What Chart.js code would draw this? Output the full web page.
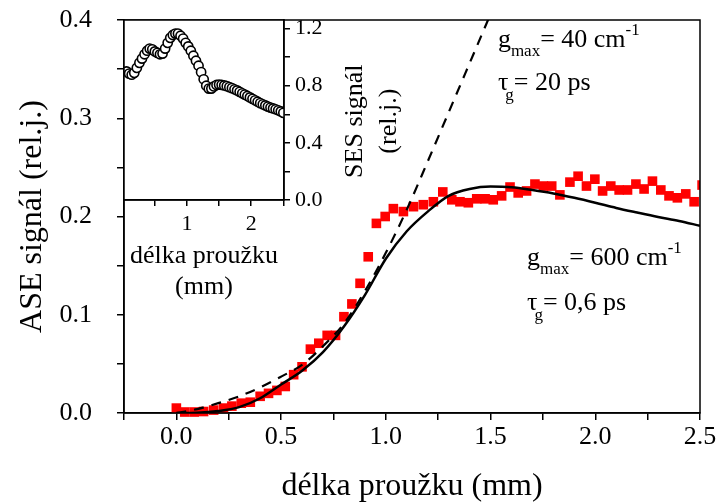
<!DOCTYPE html>
<html>
<head>
<meta charset="utf-8">
<script src="https://cdn.jsdelivr.net/npm/chart.js@4/dist/chart.umd.min.js"></script>
<style>
  html, body { margin: 0; padding: 0; background: #fff; }
  #wrap { position: relative; width: 717px; height: 504px; }
  #wrap canvas { position: absolute; left: 0; top: 0; }
</style>
</head>
<body>
<div id="wrap">
  <canvas id="main" width="717" height="504"></canvas>
  <canvas id="inset" width="717" height="504"></canvas>
</div>
<script>
// ASE signal vs. excitation stripe length (measured)
const stripLength = [0.00, 0.04, 0.085, 0.13, 0.178, 0.225, 0.265, 0.31, 0.353, 0.40,
  0.44, 0.48, 0.52, 0.56, 0.60, 0.64, 0.68, 0.72, 0.76, 0.80,
  0.838, 0.877, 0.916, 0.955, 0.997, 1.036, 1.084, 1.132, 1.179, 1.227,
  1.272, 1.315, 1.354, 1.394, 1.434, 1.474, 1.513, 1.553, 1.593, 1.632,
  1.672, 1.712, 1.752, 1.792, 1.831, 1.879, 1.918, 1.958, 1.998, 2.035,
  2.074, 2.114, 2.154, 2.194, 2.233, 2.273, 2.313, 2.352, 2.392, 2.432,
  2.472, 2.51];
const aseSignal = [0.005, 0.001, 0.001, 0.0015, 0.003, 0.005, 0.007, 0.010, 0.011, 0.017,
  0.020, 0.023, 0.027, 0.039, 0.047, 0.065, 0.071, 0.079, 0.079, 0.098,
  0.111, 0.132, 0.159, 0.193, 0.200, 0.208, 0.205, 0.210, 0.212, 0.215,
  0.225, 0.217, 0.215, 0.214, 0.218, 0.218, 0.217, 0.221, 0.230, 0.224,
  0.226, 0.233, 0.231, 0.231, 0.222, 0.235, 0.241, 0.231, 0.238, 0.226,
  0.231, 0.227, 0.227, 0.233, 0.228, 0.236, 0.227, 0.221, 0.219, 0.223,
  0.215, 0.232];

// model curves
const modelLength = [0, 0.1, 0.2, 0.3, 0.4, 0.5, 0.6, 0.7, 0.8, 0.9, 1.0, 1.1, 1.2,
  1.3, 1.4, 1.5, 1.6, 1.7, 1.8, 1.9, 2.0, 2.1, 2.2, 2.3, 2.4, 2.5];
// g_max = 600 cm^-1, tau_g = 0.6 ps
const modelFast = [0, 0.0003, 0.002, 0.006, 0.015, 0.029, 0.043, 0.062, 0.088, 0.120,
  0.157, 0.185, 0.205, 0.221, 0.228, 0.2305, 0.2298, 0.227, 0.2235, 0.219,
  0.214, 0.2087, 0.204, 0.1995, 0.1955, 0.1905];
// g_max = 40 cm^-1, tau_g = 20 ps
const slowLength = [0, 0.1, 0.2, 0.3, 0.4, 0.5, 0.6, 0.7, 0.8, 0.9, 1.0, 1.1, 1.2,
  1.3, 1.4, 1.5, 1.6];
const modelSlow = [0, 0.004, 0.010, 0.017, 0.026, 0.037, 0.049, 0.068, 0.091, 0.124,
  0.163, 0.207, 0.256, 0.306, 0.356, 0.406, 0.456];

// SES signal (inset)
const sesLength = [0.06, 0.10, 0.14, 0.18, 0.22, 0.26, 0.30, 0.34, 0.38, 0.42,
  0.46, 0.50, 0.54, 0.58, 0.62, 0.66, 0.70, 0.74, 0.78, 0.82,
  0.86, 0.90, 0.94, 0.98, 1.02, 1.06, 1.10, 1.14, 1.18, 1.22,
  1.26, 1.30, 1.34, 1.38, 1.42, 1.46, 1.50, 1.54, 1.58, 1.62,
  1.66, 1.70, 1.74, 1.78, 1.82, 1.86, 1.90, 1.94, 1.98, 2.02,
  2.06, 2.10, 2.14, 2.18, 2.22, 2.26, 2.30, 2.34, 2.38, 2.42,
  2.46, 2.50];
const sesSignal = [0.900, 0.885, 0.877, 0.890, 0.925, 0.960, 0.990, 1.020, 1.045, 1.060,
  1.055, 1.040, 1.030, 1.020, 1.025, 1.060, 1.100, 1.135, 1.155, 1.165,
  1.165, 1.150, 1.130, 1.100, 1.075, 1.045, 1.010, 0.975, 0.940, 0.895,
  0.845, 0.800, 0.780, 0.780, 0.795, 0.805, 0.808, 0.806, 0.802, 0.797,
  0.790, 0.783, 0.775, 0.767, 0.757, 0.747, 0.738, 0.728, 0.718, 0.708,
  0.698, 0.688, 0.678, 0.670, 0.662, 0.654, 0.647, 0.641, 0.635, 0.628,
  0.620, 0.610];

// tick labels
const mainXLabels = ['0.0', '0.5', '1.0', '1.5', '2.0', '2.5'];
const mainYLabels = ['0.0', '0.1', '0.2', '0.3', '0.4'];
const insetXLabels = ['1', '2'];
const insetYLabels = ['0.0', '0.4', '0.8', '1.2'];

const SERIF = "'Liberation Serif', 'Times New Roman', serif";

function labelFrom(list, v) {
  const hit = list.find(s => Math.abs(parseFloat(s) - v) < 1e-6);
  return hit === undefined ? '' : hit;
}
const pts = (xs, ys) => xs.map((x, i) => ({ x, y: ys[i] }));

// frame around the plot area
const frame = {
  id: 'frame',
  beforeDraw(chart, args, opts) {
    if (!opts.fill) return;
    const a = chart.chartArea, ctx = chart.ctx;
    ctx.save();
    ctx.fillStyle = opts.fill;
    ctx.fillRect(a.left, a.top, a.right - a.left, a.bottom - a.top);
    ctx.restore();
  },
  afterDraw(chart) {
    const a = chart.chartArea, ctx = chart.ctx;
    ctx.save();
    ctx.strokeStyle = '#000';
    ctx.lineWidth = 1.5;
    ctx.strokeRect(a.left, a.top, a.right - a.left, a.bottom - a.top);
    ctx.restore();
  }
};

function drawRich(ctx, x, y, parts) {
  let cx = x;
  for (const p of parts) {
    ctx.font = p.size + 'px ' + SERIF;
    ctx.fillText(p.t, cx, y + (p.dy || 0));
    cx += ctx.measureText(p.t).width + (p.gap || 0);
  }
}

// parameter labels next to the model curves, and the inset's rotated y title
const notes = {
  id: 'notes',
  afterDraw(chart) {
    const { ctx, scales: { x, y } } = chart;
    ctx.save();
    ctx.fillStyle = '#000';
    ctx.textBaseline = 'alphabetic';
    ctx.textAlign = 'left';
    const x1 = x.getPixelForValue(1.535), x2 = x.getPixelForValue(1.674);
    drawRich(ctx, x1, y.getPixelForValue(0.373), [
      { t: 'g', size: 26 }, { t: 'max', size: 17, dy: 9 },
      { t: '= 40 cm', size: 26 }, { t: '-1', size: 17, dy: -12 }]);
    drawRich(ctx, x1, y.getPixelForValue(0.329), [
      { t: 'τ', size: 26, gap: -3 }, { t: 'g', size: 17, dy: 10 },
      { t: '= 20 ps', size: 26 }]);
    drawRich(ctx, x2, y.getPixelForValue(0.151), [
      { t: 'g', size: 26 }, { t: 'max', size: 17, dy: 9 },
      { t: '= 600 cm', size: 26 }, { t: '-1', size: 17, dy: -12 }]);
    drawRich(ctx, x2, y.getPixelForValue(0.105), [
      { t: 'τ', size: 26, gap: -3 }, { t: 'g', size: 17, dy: 10 },
      { t: '= 0,6 ps', size: 26 }]);

    // "SES signál (rel.j.)" reads bottom-to-top beside the inset's right axis
    ctx.font = '26px ' + SERIF;
    ctx.textAlign = 'center';
    ctx.textBaseline = 'middle';
    const cy = y.getPixelForValue(0.297);
    [['SES signál', x.getPixelForValue(0.853)], ['(rel.j.)', x.getPixelForValue(1.015)]].forEach(([t, cx]) => {
      ctx.save();
      ctx.translate(cx, cy);
      ctx.rotate(-Math.PI / 2);
      ctx.fillText(t, 0, 0);
      ctx.restore();
    });
    ctx.restore();
  }
};

const axisGrid = (len) => ({ drawOnChartArea: false, drawTicks: true, tickLength: len, color: '#000', lineWidth: 1.5 });
const axisBorder = { color: '#000', width: 1.5 };

new Chart(document.getElementById('main'), {
  type: 'scatter',
  data: {
    datasets: [
      {
        label: 'g_max = 600 cm-1',
        data: pts(modelLength, modelFast),
        showLine: true, borderColor: '#000', borderWidth: 2.5,
        pointRadius: 0, cubicInterpolationMode: 'monotone', order: 1
      },
      {
        label: 'g_max = 40 cm-1',
        data: pts(slowLength, modelSlow),
        showLine: true, borderColor: '#000', borderWidth: 2.2, borderDash: [10, 8],
        pointRadius: 0, cubicInterpolationMode: 'monotone', order: 2
      },
      {
        label: 'ASE',
        data: pts(stripLength, aseSignal),
        showLine: false, pointStyle: 'rect', pointRadius: 6.8,
        backgroundColor: '#ff0000', borderWidth: 0, order: 3,
        clip: { left: 10, top: 10, right: 0, bottom: 10 }
      }
    ]
  },
  options: {
    responsive: false, animation: false, events: [], devicePixelRatio: 1,
    layout: { padding: { left: 0, top: 20, right: 17, bottom: 0 } },
    plugins: { legend: { display: false }, tooltip: { enabled: false } },
    scales: {
      x: {
        type: 'linear', min: -0.25, max: 2.5,
        ticks: {
          stepSize: 0.25, autoSkip: false, maxRotation: 0, padding: 2, color: '#000',
          font: { family: SERIF, size: 26 },
          callback: v => labelFrom(mainXLabels, v)
        },
        grid: axisGrid(7), border: axisBorder,
        title: { display: true, text: 'délka proužku (mm)', color: '#000',
          font: { family: SERIF, size: 32, lineHeight: 1.1 }, padding: 0 },
        afterFit(s) { s.height = 91; s.paddingLeft = 0; s.paddingRight = 0; }
      },
      y: {
        type: 'linear', min: 0, max: 0.4,
        ticks: {
          stepSize: 0.05, autoSkip: false, padding: 25, color: '#000',
          font: { family: SERIF, size: 26 },
          callback: v => labelFrom(mainYLabels, v)
        },
        grid: axisGrid(7), border: axisBorder,
        title: { display: true, text: 'ASE signál (rel.j.)', color: '#000',
          font: { family: SERIF, size: 32, lineHeight: 1.2 }, padding: { top: 13, bottom: 0 } },
        afterFit(s) { s.width = 124; s.paddingTop = 0; s.paddingBottom = 0; }
      }
    }
  },
  plugins: [frame, notes]
});

new Chart(document.getElementById('inset'), {
  type: 'scatter',
  data: {
    datasets: [{
      label: 'SES',
      data: pts(sesLength, sesSignal),
      showLine: false, pointStyle: 'circle', pointRadius: 4.6,
      backgroundColor: '#fff', borderColor: '#000', borderWidth: 1.6
    }]
  },
  options: {
    responsive: false, animation: false, events: [], devicePixelRatio: 1,
    layout: { padding: { left: 124, top: 20, right: 0, bottom: 201 } },
    plugins: { legend: { display: false }, tooltip: { enabled: false }, frame: { fill: '#fff' } },
    scales: {
      x: {
        type: 'linear', min: 0.02, max: 2.51,
        ticks: {
          stepSize: 0.5, includeBounds: false, autoSkip: false, maxRotation: 0, padding: 5,
          color: '#000', font: { family: SERIF, size: 22 },
          callback: v => labelFrom(insetXLabels, v)
        },
        grid: axisGrid(6), border: axisBorder,
        title: { display: true, text: ['délka proužku', '(mm)'], color: '#000',
          font: { family: SERIF, size: 26, lineHeight: 1.2 }, padding: 0 },
        afterFit(s) { s.height = 103; s.paddingLeft = 0; s.paddingRight = 0; }
      },
      y: {
        type: 'linear', position: 'right', min: 0, max: 1.26,
        ticks: {
          stepSize: 0.2, includeBounds: false, autoSkip: false, padding: 5,
          color: '#000', font: { family: SERIF, size: 22 },
          callback: v => labelFrom(insetYLabels, v)
        },
        grid: axisGrid(6), border: axisBorder,
        afterFit(s) { s.width = 433; s.paddingTop = 0; s.paddingBottom = 0; }
      }
    }
  },
  plugins: [frame]
});
</script>
</body>
</html>
